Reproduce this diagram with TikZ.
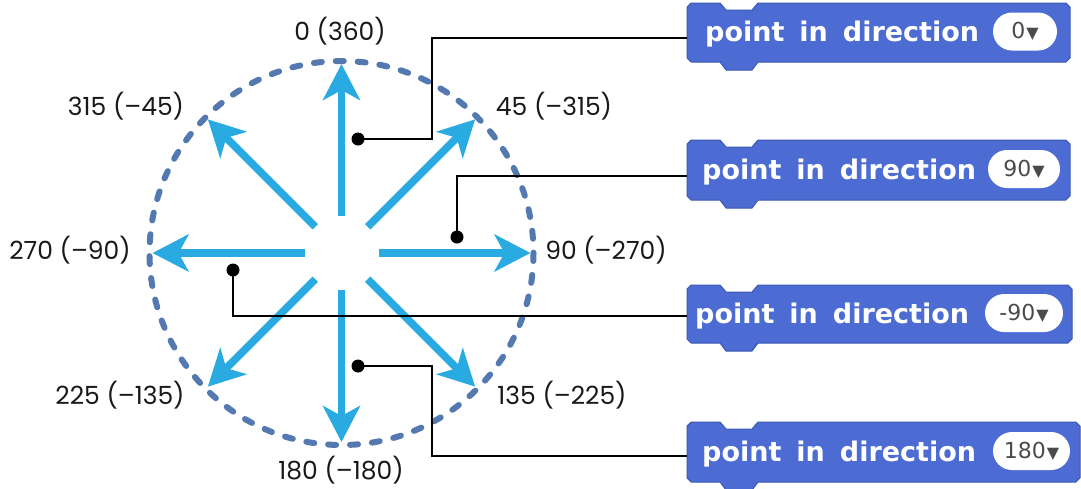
\documentclass[tikz,border=0pt]{standalone}
\usepackage{fontspec}
\setmainfont{Poppins}
\newfontfamily\blockfont{DejaVu Sans}
\newfontfamily\slotfont{DejaVu Sans}
\usetikzlibrary{arrows.meta, calc}
\definecolor{arrowblue}{RGB}{41, 171, 226}
\definecolor{ringblue}{RGB}{84, 120, 176}
\definecolor{motion}{RGB}{76, 108, 212}
\definecolor{motionedge}{RGB}{58, 88, 178}
\definecolor{slotgray}{RGB}{75, 75, 75}
\definecolor{labelblack}{RGB}{25, 25, 25}

\begin{document}
\begin{tikzpicture}[
    x=1pt, y=-1pt,
    dirarrow/.style={arrowblue, line width=7.5pt, -{Stealth[length=36pt, width=37pt, inset=10pt]}},
    ring/.style={ringblue, line width=6pt, line cap=round, dash pattern=on 8pt off 13.93pt},
    lbl/.style={font=\fontsize{25}{30}\selectfont, text=labelblack, inner sep=0},
    dot/.style={circle, fill=black, inner sep=0, minimum size=13pt},
    wire/.style={black, line width=1.3pt},
    blockbody/.style={fill=motion, draw=motionedge, line width=1pt},
    blocktext/.style={font=\blockfont\bfseries\fontsize{27}{30}\selectfont, text=white, inner sep=0},
    slot/.style={fill=white, rounded corners=19pt, minimum height=38pt, inner sep=0,
      font=\slotfont\fontsize{22}{26}\selectfont, text=slotgray}
  ]
    \useasboundingbox (0,0) rectangle (1081,488);

    % direction circle
    \coordinate (c) at (341.5,253);
    \draw[ring] (c) circle[radius=192];
    \foreach \d in {0,45,...,315} {
      \coordinate (s\d) at ($(c)+(\d-90:37)$);
      \coordinate (e\d) at ($(c)+(\d-90:189)$);
      \draw[dirarrow] (s\d) -- (e\d);
    }

    % angle labels
    \node[lbl] (l0) at (340,31) {0 (360)};
    \node[lbl] (l45) at (554,106) {45 (–315)};
    \node[lbl] (l90) at (606,250) {90 (–270)};
    \node[lbl] (l135) at (562,395) {135 (–225)};
    \node[lbl] (l180) at (341,470) {180 (–180)};
    \node[lbl] (l225) at (120,395) {225 (–135)};
    \node[lbl] (l270) at (70,250) {270 (–90)};
    \node[lbl] (l315) at (126,106) {315 (–45)};

    % motion blocks
    \foreach \n/\t/\b/\r/\tx/\ol/\orr/\ly/\v in {
        1/3/62/1070/705/993/1057/38/0,
        2/140/200/1070/702/988/1060/176/90,
        3/285/343/1072/695/985/1063/316/-90,
        4/422/482/1080/702/993/1070/456/180} {
      \draw[blockbody] (691,\t) -- (720,\t) -- (726,\t+7) -- (752,\t+7) -- (758,\t)
        -- (\r-4,\t) -- (\r,\t+4) -- (\r,\b-4) -- (\r-4,\b) -- (758,\b)
        -- (752,\b+8) -- (726,\b+8) -- (720,\b) -- (691,\b) -- (687,\b-4)
        -- (687,\t+4) -- cycle;
      \node[blocktext, anchor=west] (t\n) at (\tx,{(\t+\b)/2+2})
        {point\hspace{15pt}in\hspace{15pt}direction};
      \node[slot, minimum width={\orr-\ol}] (o\n) at ({(\ol+\orr)/2},{(\t+\b)/2-1})
        {\v\hspace{1pt}{\fontsize{16}{16}\selectfont ▼}};
      \coordinate (b\n) at (687,\ly);
    }

    % pointers
    \node[dot] (d1) at (358,139) {};
    \node[dot] (d2) at (457,237) {};
    \node[dot] (d3) at (233,270) {};
    \node[dot] (d4) at (358,366) {};
    \coordinate (k1) at (432,38);
    \coordinate (k4) at (432,456);
    \draw[wire] (d1.center) -| (k1) -- (b1);
    \draw[wire] (d2.center) |- (b2);
    \draw[wire] (d3.center) |- (b3);
    \draw[wire] (d4.center) -| (k4) -- (b4);
  \end{tikzpicture}
\end{document}
